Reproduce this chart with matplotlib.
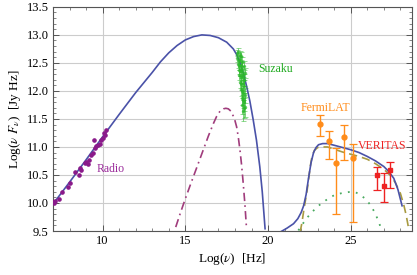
import numpy as np
import matplotlib
matplotlib.use('Agg')
import matplotlib.pyplot as plt
from matplotlib.ticker import MultipleLocator, FormatStrFormatter

plt.rcParams['font.family'] = ['Liberation Serif', 'DejaVu Serif']
plt.rcParams['mathtext.fontset'] = 'stix'

# --- data ---
radio_x = [7.03, 7.08, 7.15, 7.35, 7.56, 7.90, 8.00, 8.36, 8.60, 8.65, 8.71, 8.91,
           9.01, 9.10, 9.17, 9.32, 9.41, 9.47, 9.52, 9.62, 9.70, 9.82, 9.92, 10.02,
           10.06, 10.12, 10.18]
radio_y = [10.02, 10.00, 10.04, 10.07, 10.20, 10.29, 10.35, 10.55, 10.50, 10.62, 10.59, 10.71,
           10.74, 10.70, 10.77, 10.86, 10.89, 11.13, 10.98, 11.01, 11.04, 11.06, 11.13, 11.16,
           11.25, 11.22, 11.30]

suz_x = [18.12, 18.20, 18.28, 18.35, 18.15, 18.24, 18.32, 18.40, 18.18, 18.27, 18.36, 18.44,
         18.22, 18.30, 18.39, 18.47, 18.26, 18.34, 18.43, 18.52, 18.30, 18.38, 18.47, 18.55,
         18.34, 18.42, 18.50, 18.58, 18.40, 18.48, 18.56, 18.45, 18.53, 18.60, 18.50,
         18.55, 18.58]
suz_y = [12.68, 12.70, 12.66, 12.62, 12.58, 12.55, 12.57, 12.52, 12.48, 12.45, 12.47, 12.42,
         12.38, 12.35, 12.37, 12.30, 12.28, 12.24, 12.26, 12.20, 12.16, 12.12, 12.14, 12.08,
         12.03, 12.00, 11.96, 11.92, 11.88, 11.84, 11.80, 11.75, 11.70, 11.72, 11.65,
         12.45, 12.32]
suz_e = [0.05, 0.06, 0.06, 0.07, 0.06, 0.07, 0.06, 0.08, 0.07, 0.08, 0.07, 0.09,
         0.08, 0.09, 0.08, 0.10, 0.09, 0.10, 0.09, 0.11, 0.10, 0.11, 0.10, 0.12,
         0.12, 0.13, 0.12, 0.14, 0.14, 0.15, 0.16, 0.17, 0.18, 0.18, 0.19,
         0.08, 0.09]

fermi_x = [23.15, 23.66, 24.12, 24.62, 25.11]
fermi_y = [11.41, 11.10, 10.71, 11.18, 10.80]
fermi_lo = [0.21, 0.31, 0.90, 0.41, 1.14]
fermi_hi = [0.16, 0.18, 0.28, 0.21, 0.26]

ver_x = [26.58, 26.99, 27.39]
ver_y = [10.50, 10.31, 10.58]
ver_lo = [0.27, 0.30, 0.32]
ver_hi = [0.15, 0.22, 0.16]

# synchrotron total (blue solid)
syn_x = [7.0, 8.0, 9.0, 10.0, 11.0, 12.0, 12.5, 13.0, 13.5, 14.0, 14.5, 15.0, 15.5, 16.0,
         16.5, 17.0, 17.5, 17.9, 18.1, 18.3, 18.5, 18.7, 18.9, 19.1, 19.3, 19.5, 19.65, 19.82]
syn_y = [9.98, 10.37, 10.77, 11.18, 11.58, 11.97, 12.15, 12.33, 12.52, 12.68, 12.81, 12.91,
         12.97, 13.00, 12.99, 12.95, 12.87, 12.75, 12.65, 12.51, 12.32, 12.09, 11.82, 11.49,
         11.12, 10.65, 10.20, 9.54]

# second synchrotron component (dash-dot)
syn2_x = [14.42, 14.7, 14.97, 15.25, 15.5, 15.8, 16.1, 16.4, 16.7, 16.9, 17.1, 17.3, 17.45,
          17.6, 17.75, 17.9, 18.0, 18.1, 18.2, 18.3, 18.4, 18.5, 18.6, 18.7]
syn2_y = [9.57, 9.82, 10.05, 10.28, 10.48, 10.72, 10.96, 11.20, 11.42, 11.55, 11.64, 11.68,
          11.69, 11.68, 11.64, 11.55, 11.47, 11.36, 11.18, 10.95, 10.68, 10.35, 9.98, 9.54]

# inverse Compton total (blue solid)
ic_x = [20.73, 21.14, 21.54, 21.8, 22.0, 22.15, 22.3, 22.45, 22.6, 22.75, 22.9, 23.05, 23.3,
        23.6, 24.0, 24.5, 25.0, 25.5, 26.0, 26.5, 27.0, 27.3, 27.6, 27.85, 28.1]
ic_y = [9.48, 9.55, 9.63, 9.72, 9.83, 9.95, 10.15, 10.45, 10.72, 10.90, 10.99, 11.04, 11.06,
        11.06, 11.03, 10.99, 10.95, 10.90, 10.83, 10.75, 10.65, 10.56, 10.44, 10.24, 9.95]

# SSC (olive dashed)
ssc_x = [21.94, 22.05, 22.15, 22.25, 22.35, 22.45, 22.55, 22.65, 22.8, 23.0, 23.3, 23.6, 24.0,
         24.5, 25.0, 25.5, 26.0, 26.5, 27.0, 27.4, 27.7, 28.0, 28.2, 28.35, 28.5]
ssc_y = [9.48, 9.65, 9.85, 10.03, 10.20, 10.42, 10.65, 10.82, 10.94, 10.99, 11.00, 11.00, 10.96,
         10.91, 10.87, 10.83, 10.78, 10.70, 10.60, 10.49, 10.36, 10.17, 9.97, 9.78, 9.54]

# external Compton (green dotted)
ec_x = [21.83, 22.1, 22.4, 22.7, 23.0, 23.5, 24.0, 24.5, 25.0, 25.3, 25.6, 25.9, 26.2, 26.45,
        26.7, 26.89]
ec_y = [9.51, 9.63, 9.75, 9.85, 9.94, 10.05, 10.14, 10.18, 10.20, 10.19, 10.14, 10.07, 9.96,
        9.83, 9.66, 9.48]

# --- plot ---
fig = plt.figure(figsize=(4.17, 2.75), dpi=100)
ax = fig.add_axes([0.127, 0.16, 0.861, 0.815])

ax.plot(syn_x, syn_y, color='#4a52a8', lw=1.2, zorder=3)
ax.plot(syn2_x, syn2_y, color='#a03c7c', lw=1.2, ls=(0, (5, 2.5, 1, 2.5)), zorder=3)
ax.plot(ssc_x, ssc_y, color='#a89a40', lw=1.2, ls=(0, (5, 3)), zorder=3)
ax.plot(ec_x, ec_y, color='#4aaa60', lw=1.3, ls=(0, (1, 3.5)), zorder=3)
ax.plot(ic_x, ic_y, color='#4a52a8', lw=1.2, zorder=3)

ax.plot(radio_x, radio_y, 'o', color='#8a1a8a', ms=2.3, zorder=4)
ax.errorbar(suz_x, suz_y, yerr=suz_e, fmt='o', color='#2cb82c', ms=1.5, lw=0.7,
            capsize=1.8, capthick=0.6, alpha=0.6, zorder=4)
ax.errorbar(fermi_x, fermi_y, yerr=[fermi_lo, fermi_hi], fmt='o', color='#ff8c1a', ms=3.5,
            lw=1.0, capsize=3, capthick=0.9, zorder=4)
ax.errorbar(ver_x, ver_y, yerr=[ver_lo, ver_hi], fmt='s', color='#ee2222', ms=2.2,
            lw=1.0, capsize=3, capthick=0.9, zorder=4)

ax.text(9.64, 10.6, 'Radio', color='#9a2a9a', fontsize=8.5, va='center')
ax.text(19.4, 12.39, 'Suzaku', color='#22aa22', fontsize=8.5, va='center')
ax.text(21.94, 11.7, 'FermiLAT', color='#ff8c1a', fontsize=8.5, va='center')
ax.text(25.45, 11.01, 'VERITAS', color='#ee2222', fontsize=8.5, va='center')

ax.set_xlim(7, 28.7)
ax.set_ylim(9.5, 13.5)
ax.xaxis.set_major_locator(MultipleLocator(5))
ax.xaxis.set_minor_locator(MultipleLocator(1))
ax.yaxis.set_major_locator(MultipleLocator(0.5))
ax.yaxis.set_minor_locator(MultipleLocator(0.1))
ax.yaxis.set_major_formatter(FormatStrFormatter('%.1f'))
ax.tick_params(which='both', direction='in', top=True, right=True, labelsize=9,
               color='#555555', pad=3)
ax.tick_params(which='major', length=4, width=0.7)
ax.tick_params(which='minor', length=2, width=0.5)
ax.grid(True, which='major', color='#cccccc', lw=0.8, zorder=0)
ax.set_axisbelow(True)
for s in ax.spines.values():
    s.set_color('#555555')
    s.set_linewidth(0.8)

ax.set_xlabel(r'Log($\nu$)  [Hz]', fontsize=9.5, labelpad=3)
ax.set_ylabel(r'Log($\nu\ F_\nu$)  [Jy Hz]', fontsize=9.5, labelpad=3)

fig.savefig('out.png', dpi=100)
